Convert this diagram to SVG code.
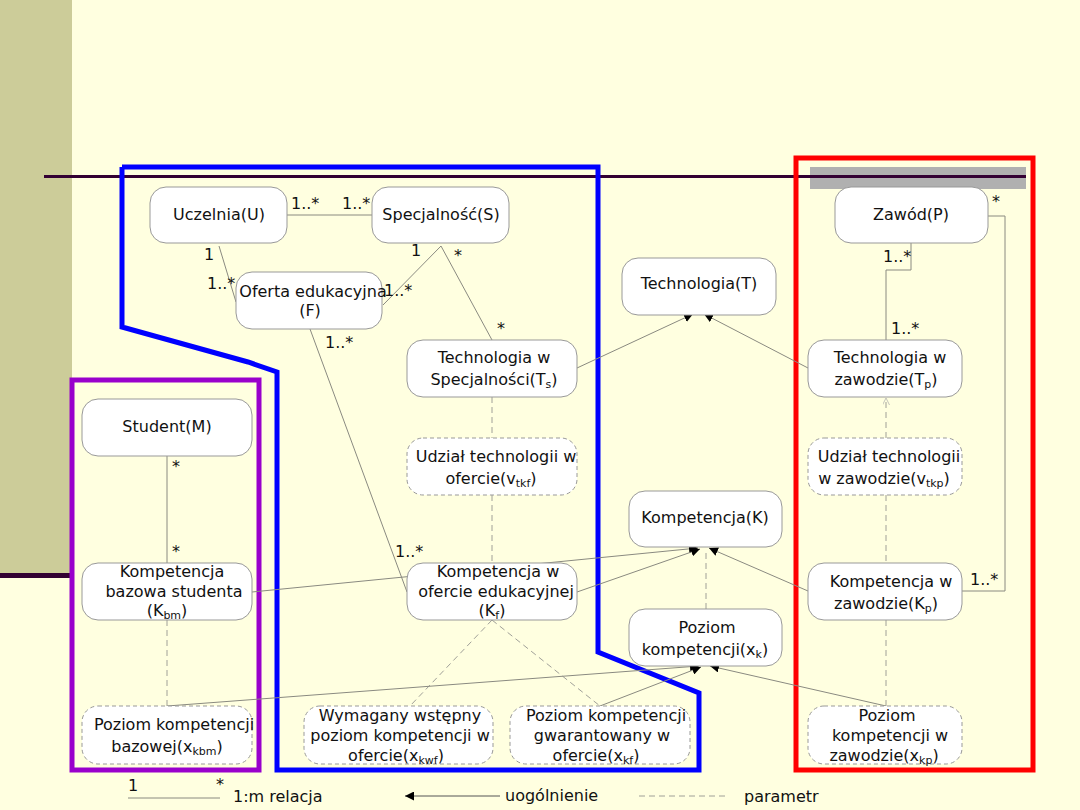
<svg xmlns="http://www.w3.org/2000/svg" width="1080" height="810" viewBox="0 0 1080 810">
<defs>
<style>
.n{fill:#fff;stroke:#999;stroke-width:1}
.p{fill:#fff;stroke:#999;stroke-width:1;stroke-dasharray:4 3}
text{font-family:"DejaVu Sans",sans-serif;font-size:16px;fill:#111;text-anchor:middle}
.l{text-anchor:start}
.s{font-size:11px}
.c{stroke:#8a8a80;stroke-width:1;fill:none}
.d{stroke:#a0a098;stroke-width:1;fill:none;stroke-dasharray:6 4}
.a{stroke:#8a8a80;stroke-width:1;fill:none;marker-end:url(#ah)}
</style>
<marker id="ah" viewBox="0 0 10 10" refX="10" refY="5" markerWidth="9" markerHeight="9" orient="auto" markerUnits="userSpaceOnUse">
<path d="M0,0 L10,5 L0,10 z" fill="#000"/>
</marker>
<marker id="oh" viewBox="0 0 10 10" refX="10" refY="5" markerWidth="7" markerHeight="7" orient="auto" markerUnits="userSpaceOnUse">
<path d="M0,0 L10,5 L0,10" fill="none" stroke="#aaa"/>
</marker>
</defs>
<rect width="1080" height="810" fill="#ffffe0"/>
<rect x="0" y="0" width="72" height="575" fill="#cccc99"/>
<rect x="0" y="573" width="74" height="5" fill="#330033"/>
<rect x="810" y="167" width="216" height="22" fill="#b0b0b0"/>
<line x1="44" y1="176.5" x2="1026" y2="176.5" stroke="#330033" stroke-width="3"/>

<g id="regions" fill="none" stroke-width="5">
<polyline points="122,167 598,167 598,652 699,693 699,770 277,770 277,372 248,362 122,327 122,167" stroke="#0000ff"/>
<rect x="72" y="380" width="187" height="390" stroke="#9900cc"/>
<rect x="796" y="158" width="237" height="612" stroke="#ff0000"/>
</g>

<g id="connectors">
<line class="c" x1="287" y1="215" x2="372" y2="215"/>
<line class="c" x1="219" y1="246" x2="236" y2="302"/>
<line class="c" x1="441" y1="246" x2="383" y2="305"/>
<line class="c" x1="441" y1="246" x2="492" y2="340"/>
<line class="c" x1="310" y1="329" x2="407" y2="592"/>
<line class="a" x1="577" y1="368" x2="693" y2="314"/>
<line class="a" x1="808" y1="368" x2="704" y2="314"/>
<polyline class="c" points="911,243 911,270 886,270 886,340"/>
<polyline class="c" points="988,216 1005,216 1005,591 962,591"/>
<line class="c" x1="167" y1="456" x2="167" y2="563"/>
<line class="d" x1="167" y1="620" x2="167" y2="706"/>
<line class="d" x1="492" y1="397" x2="492" y2="438"/>
<line class="d" x1="492" y1="495" x2="492" y2="563"/>
<line class="d" x1="886" y1="438" x2="886" y2="398" style="marker-end:url(#oh)"/>
<line class="d" x1="886" y1="495" x2="886" y2="563"/>
<line class="d" x1="886" y1="620" x2="886" y2="706"/>
<line class="d" x1="706" y1="609" x2="706" y2="550"/>
<line class="a" x1="252" y1="592" x2="698" y2="548"/>
<line class="a" x1="577" y1="592" x2="700" y2="549"/>
<line class="a" x1="808" y1="591" x2="709" y2="548"/>
<line class="d" x1="492" y1="620" x2="410" y2="706"/>
<line class="d" x1="492" y1="620" x2="600" y2="706"/>
<line class="a" x1="167" y1="706" x2="699" y2="666"/>
<line class="a" x1="600" y1="706" x2="701" y2="667"/>
<line class="a" x1="886" y1="706" x2="710" y2="666"/>
</g>

<g id="labels">
<text class="l" x="291" y="209">1..*</text>
<text class="l" x="342" y="209">1..*</text>
<text class="l" x="204" y="260">1</text>
<text class="l" x="207" y="289">1..*</text>
<text class="l" x="411" y="256">1</text>
<text class="l" x="454" y="261">*</text>
<text class="l" x="384" y="296">1..*</text>
<text class="l" x="497" y="334">*</text>
<text class="l" x="325" y="348">1..*</text>
<text class="l" x="395" y="557">1..*</text>
<text class="l" x="883" y="262">1..*</text>
<text class="l" x="891" y="334">1..*</text>
<text class="l" x="992" y="207">*</text>
<text class="l" x="970" y="585">1..*</text>
<text class="l" x="172" y="472">*</text>
<text class="l" x="172" y="557">*</text>
</g>

<g id="n-uczelnia"><rect class="n" x="150" y="187" width="137" height="56" rx="16"/><text x="219" y="220">Uczelnia(U)</text></g>
<g id="n-specjalnosc"><rect class="n" x="372" y="187" width="137" height="56" rx="16"/><text x="441" y="220">Specjalność(S)</text></g>
<g id="n-oferta"><rect class="n" x="236" y="272" width="146" height="57" rx="16"/><text x="313" y="297">Oferta edukacyjna</text><text x="310" y="316">(F)</text></g>
<g id="n-technologia"><rect class="n" x="622" y="258" width="154" height="57" rx="16"/><text x="699" y="289">Technologia(T)</text></g>
<g id="n-zawod"><rect class="n" x="835" y="187" width="153" height="56" rx="16"/><text x="911" y="220">Zawód(P)</text></g>
<g id="n-tech-spec"><rect class="n" x="407" y="340" width="170" height="57" rx="16"/><text x="494" y="363">Technologia w</text><text x="494" y="385">Specjalności(T<tspan class="s" dy="3">s</tspan><tspan dy="-3">)</tspan></text></g>
<g id="n-tech-zaw"><rect class="n" x="808" y="340" width="154" height="57" rx="16"/><text x="890" y="363">Technologia w</text><text x="886" y="385">zawodzie(T<tspan class="s" dy="3">p</tspan><tspan dy="-3">)</tspan></text></g>
<g id="n-student"><rect class="n" x="82" y="399" width="170" height="57" rx="16"/><text x="167" y="432">Student(M)</text></g>
<g id="n-udzial-of"><rect class="p" x="407" y="438" width="170" height="57" rx="16"/><text x="496" y="462">Udział technologii w</text><text x="491" y="484">ofercie(v<tspan class="s" dy="3">tkf</tspan><tspan dy="-3">)</tspan></text></g>
<g id="n-udzial-zaw"><rect class="p" x="808" y="438" width="154" height="57" rx="16"/><text x="889" y="462">Udział technologii</text><text x="884" y="484">w zawodzie(v<tspan class="s" dy="3">tkp</tspan><tspan dy="-3">)</tspan></text></g>
<g id="n-kompetencja"><rect class="n" x="629" y="491" width="153" height="56" rx="16"/><text x="705" y="523">Kompetencja(K)</text></g>
<g id="n-kbm"><rect class="n" x="82" y="563" width="170" height="57" rx="16"/><text x="172" y="577">Kompetencja</text><text x="174" y="597">bazowa studenta</text><text x="167" y="616">(K<tspan class="s" dy="3">bm</tspan><tspan dy="-3">)</tspan></text></g>
<g id="n-kf"><rect class="n" x="407" y="563" width="170" height="57" rx="16"/><text x="498" y="577">Kompetencja w</text><text x="496" y="597">ofercie edukacyjnej</text><text x="492" y="616">(K<tspan class="s" dy="3">f</tspan><tspan dy="-3">)</tspan></text></g>
<g id="n-kp"><rect class="n" x="808" y="563" width="154" height="57" rx="16"/><text x="891" y="587">Kompetencja w</text><text x="886" y="609">zawodzie(K<tspan class="s" dy="3">p</tspan><tspan dy="-3">)</tspan></text></g>
<g id="n-xk"><rect class="n" x="629" y="609" width="153" height="57" rx="16"/><text x="707" y="633">Poziom</text><text x="705" y="655">kompetencji(x<tspan class="s" dy="3">k</tspan><tspan dy="-3">)</tspan></text></g>
<g id="n-xkbm"><rect class="p" x="82" y="706" width="170" height="58" rx="16"/><text x="174" y="730">Poziom kompetencji</text><text x="167" y="752">bazowej(x<tspan class="s" dy="3">kbm</tspan><tspan dy="-3">)</tspan></text></g>
<g id="n-xkwf"><rect class="p" x="304" y="706" width="189" height="58" rx="16"/><text x="400" y="721">Wymagany wstępny</text><text x="400" y="741">poziom kompetencji w</text><text x="396" y="761">ofercie(x<tspan class="s" dy="3">kwf</tspan><tspan dy="-3">)</tspan></text></g>
<g id="n-xkf"><rect class="p" x="510" y="706" width="180" height="58" rx="16"/><text x="606" y="721">Poziom kompetencji</text><text x="602" y="741">gwarantowany w</text><text x="596" y="761">ofercie(x<tspan class="s" dy="3">kf</tspan><tspan dy="-3">)</tspan></text></g>
<g id="n-xkp"><rect class="p" x="808" y="706" width="154" height="58" rx="16"/><text x="887" y="721">Poziom</text><text x="890" y="741">kompetencji w</text><text x="884" y="761">zawodzie(x<tspan class="s" dy="3">kp</tspan><tspan dy="-3">)</tspan></text></g>

<g id="legend">
<line class="c" x1="128" y1="798" x2="220" y2="798"/>
<text class="l" x="128" y="791">1</text>
<text class="l" x="216" y="790">*</text>
<text class="l" x="233" y="802">1:m relacja</text>
<line x1="500" y1="796" x2="405" y2="796" stroke="#555" stroke-width="1" marker-end="url(#ah)"/>
<text class="l" x="505" y="801">uogólnienie</text>
<line class="d" x1="639" y1="796" x2="727" y2="796"/>
<text class="l" x="744" y="802">parametr</text>
</g>
</svg>
